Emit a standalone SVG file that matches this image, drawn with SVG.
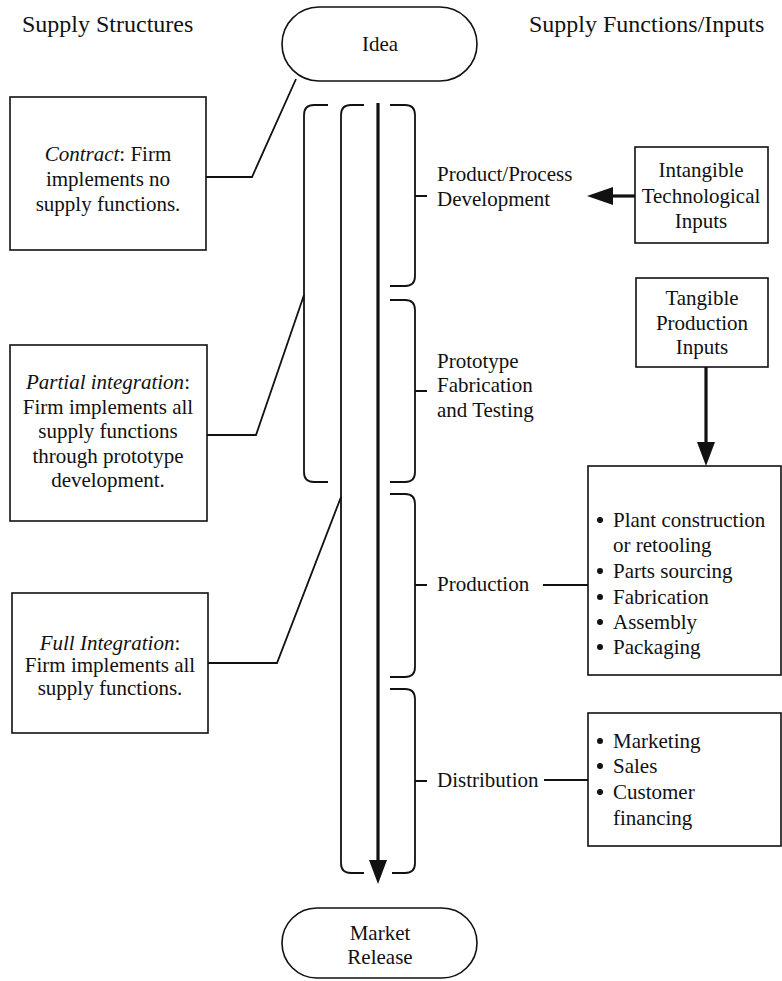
<svg xmlns="http://www.w3.org/2000/svg" width="782" height="981" viewBox="0 0 782 981">
<style>
text{font-family:"Liberation Serif","Times New Roman",serif;font-size:21px;fill:#111}
.h{font-size:24px}
.c{text-anchor:middle}
.box{fill:#fff;stroke:#111;stroke-width:1.6}
.ln{fill:none;stroke:#111;stroke-width:1.8}
.br{fill:none;stroke:#111;stroke-width:1.8}
.thick{fill:none;stroke:#111;stroke-width:3.2}
.head{fill:#111;stroke:none}
.dot{fill:#111}
</style>
<rect width="782" height="981" fill="#fff"/>

<text class="h" x="22" y="32">Supply Structures</text>
<text class="h" x="529" y="32">Supply Functions/Inputs</text>

<g id="connectors">
<path class="ln" d="M206,177 H252 L296,79"/>
<path class="ln" d="M207,435 H256 L304,295"/>
<path class="ln" d="M208,663 H277 L341,497"/>
<path class="thick" d="M378,103 V864"/>
<polygon class="head" points="378,884 369,860 387,860"/>
<path class="thick" d="M635,196 H608"/>
<polygon class="head" points="587,196 613,187 613,205"/>
<path class="thick" d="M706,367 V446"/>
<polygon class="head" points="706,466 697,442 715,442"/>
<path class="ln" d="M543,585 H588"/>
<path class="ln" d="M544,780 H588"/>
</g>

<g id="brackets">
<path class="br" d="M328,105 H314 Q304,105 304,115 V472 Q304,482 314,482 H328"/>
<path class="br" d="M364,105 H351 Q341,105 341,115 V863 Q341,873 351,873 H364"/>
<path class="br" d="M390,105 H405 Q415,105 415,115 V276 Q415,286 405,286 H390 M415,196 H427"/>
<path class="br" d="M390,300 H405 Q415,300 415,310 V472 Q415,482 405,482 H390 M415,391 H427"/>
<path class="br" d="M390,494 H405 Q415,494 415,504 V667 Q415,677 405,677 H390 M415,585 H427"/>
<path class="br" d="M390,689 H405 Q415,689 415,699 V863 Q415,873 405,873 H392 M415,781 H427"/>
</g>

<g id="idea">
<rect class="box" x="282" y="7" width="195" height="74" rx="37"/>
<text class="c" x="380" y="51">Idea</text>
</g>

<g id="market-release">
<rect class="box" x="282" y="908" width="195" height="70" rx="35"/>
<text class="c" x="380" y="940">Market</text>
<text class="c" x="380" y="964">Release</text>
</g>

<g id="contract">
<rect class="box" x="10" y="97" width="196" height="153"/>
<text class="c" x="108" y="161"><tspan font-style="italic">Contract</tspan>: Firm</text>
<text class="c" x="108" y="186">implements no</text>
<text class="c" x="108" y="211">supply functions.</text>
</g>

<g id="partial-integration">
<rect class="box" x="10" y="345" width="197" height="176"/>
<text class="c" x="108" y="389"><tspan font-style="italic">Partial integration</tspan>:</text>
<text class="c" x="108" y="414">Firm implements all</text>
<text class="c" x="108" y="438">supply functions</text>
<text class="c" x="108" y="463">through prototype</text>
<text class="c" x="108" y="487">development.</text>
</g>

<g id="full-integration">
<rect class="box" x="12" y="593" width="196" height="140"/>
<text class="c" x="110" y="650"><tspan font-style="italic">Full Integration</tspan>:</text>
<text class="c" x="110" y="672">Firm implements all</text>
<text class="c" x="110" y="695">supply functions.</text>
</g>

<g id="product-process-development">
<text x="437" y="181">Product/Process</text>
<text x="437" y="206">Development</text>
</g>

<g id="prototype">
<text x="437" y="368">Prototype</text>
<text x="437" y="392">Fabrication</text>
<text x="437" y="417">and Testing</text>
</g>

<g id="production">
<text x="437" y="591">Production</text>
</g>

<g id="distribution">
<text x="437" y="787">Distribution</text>
</g>

<g id="intangible">
<rect class="box" x="635" y="147" width="133" height="96"/>
<text class="c" x="701" y="177">Intangible</text>
<text class="c" x="701" y="203">Technological</text>
<text class="c" x="701" y="228">Inputs</text>
</g>

<g id="tangible">
<rect class="box" x="636" y="278" width="132" height="89"/>
<text class="c" x="702" y="305">Tangible</text>
<text class="c" x="702" y="330">Production</text>
<text class="c" x="702" y="354">Inputs</text>
</g>

<g id="production-functions">
<rect class="box" x="588" y="466" width="193" height="209"/>
<circle class="dot" cx="600" cy="520" r="3"/><text x="613" y="527">Plant construction</text>
<text x="613" y="552">or retooling</text>
<circle class="dot" cx="600" cy="571" r="3"/><text x="613" y="578">Parts sourcing</text>
<circle class="dot" cx="600" cy="597" r="3"/><text x="613" y="604">Fabrication</text>
<circle class="dot" cx="600" cy="622" r="3"/><text x="613" y="629">Assembly</text>
<circle class="dot" cx="600" cy="647" r="3"/><text x="613" y="654">Packaging</text>
</g>

<g id="distribution-functions">
<rect class="box" x="588" y="713" width="193" height="133"/>
<circle class="dot" cx="600" cy="741" r="3"/><text x="613" y="748">Marketing</text>
<circle class="dot" cx="600" cy="766" r="3"/><text x="613" y="773">Sales</text>
<circle class="dot" cx="600" cy="792" r="3"/><text x="613" y="799">Customer</text>
<text x="613" y="825">financing</text>
</g>
</svg>
